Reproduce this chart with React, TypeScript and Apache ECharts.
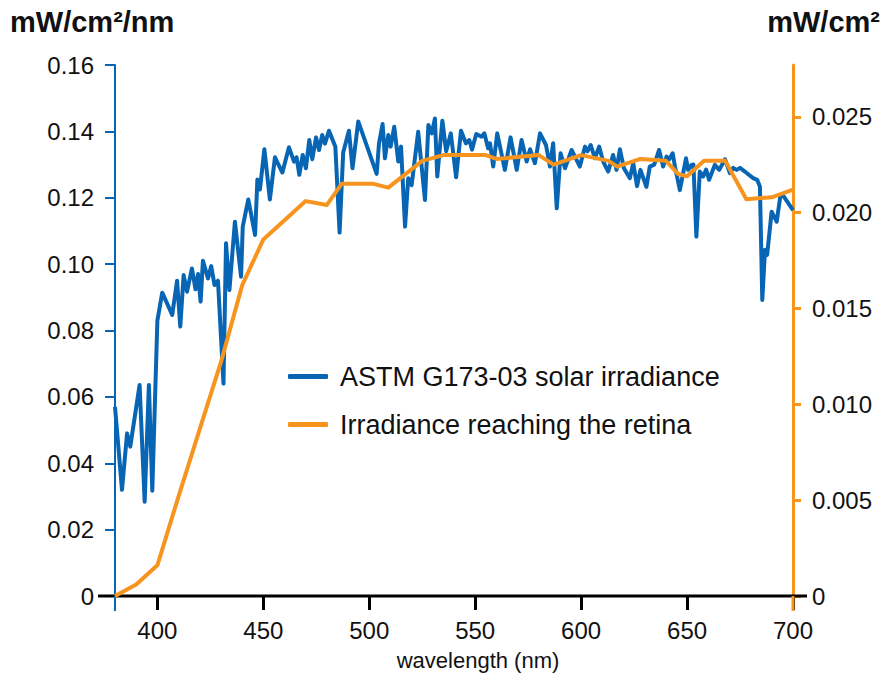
import React, { useEffect, useRef } from "react";
import * as echarts from "echarts";

const wavelength = [
  380, 383.3, 385.7, 387.2, 391.6, 394, 396, 397.6, 400, 402.3, 407, 409.3, 410.8, 412.4, 414, 416.3, 418, 419.2, 420.4, 421.5,
  423.9, 425.4, 427, 428.6, 431.2, 432.4, 434, 436.6, 439.5, 440.3, 442.9, 446.1, 447.2, 448.4, 450.5, 453.1, 455.5, 459, 462.1, 464.5,
  465.7, 467, 468.6, 470.1, 471.7, 473.1, 474.9, 476.3, 477.8, 479.1, 481, 484, 486, 487.7, 490.4, 492.1, 494.8, 503.5, 504.6, 506.3,
  507.4, 509, 510.1, 511.8, 513.7, 515, 516.9, 518.4, 520, 523.1, 526.3, 527.9, 529.5, 531, 532.1, 534.5, 536.3, 538.5, 541, 543.3,
  545.6, 547.2, 548.5, 550.5, 553, 554.3, 556.1, 557, 558.5, 560.4, 564, 566.7, 569.6, 571.9, 574.3, 575.9, 578.2, 580.6, 583.4, 585.3,
  586.8, 588.5, 590.3, 592.4, 595.5, 599.4, 601.8, 603, 604.5, 606.5, 608.5, 610.4, 612.8, 615.1, 616.7, 618.3, 620.2, 623, 624.6, 626.4,
  628, 630.8, 632.4, 634.5, 636.8, 638.7, 640.3, 641.5, 643.2, 644.3, 646.6, 649.5, 650.5, 652.1, 653, 654.4, 656, 657.6, 659, 660.4,
  663.1, 665.2, 667.9, 670.2, 671.8, 673.4, 675, 677.3, 679, 681.2, 683.1, 684.4, 685.5, 686.8, 687.8, 689.9, 692.3, 694.1, 695.5, 700,
];
const solarIrradiance = [
  0.057, 0.032, 0.049, 0.045, 0.0636, 0.0284, 0.0636, 0.0317, 0.083, 0.0914, 0.0847, 0.095, 0.0812, 0.0967, 0.0917, 0.0987, 0.0924, 0.097, 0.0887, 0.101,
  0.0957, 0.0994, 0.0937, 0.095, 0.064, 0.1063, 0.0922, 0.1128, 0.0962, 0.1113, 0.1195, 0.1088, 0.1255, 0.1225, 0.1346, 0.1195, 0.1322, 0.1276, 0.1352, 0.1309,
  0.1322, 0.1269, 0.1329, 0.1289, 0.1374, 0.1316, 0.1382, 0.1344, 0.1389, 0.1363, 0.1402, 0.1354, 0.1095, 0.1336, 0.1402, 0.1289, 0.143, 0.1272, 0.1364, 0.1422,
  0.1319, 0.1389, 0.1354, 0.1414, 0.1309, 0.1354, 0.1113, 0.1259, 0.1238, 0.1399, 0.1193, 0.1419, 0.1394, 0.1439, 0.1264, 0.1432, 0.134, 0.1394, 0.1262, 0.1402,
  0.1364, 0.1374, 0.1345, 0.1392, 0.1384, 0.1394, 0.1349, 0.1364, 0.1294, 0.1394, 0.1284, 0.1382, 0.1284, 0.1374, 0.1309, 0.1346, 0.1304, 0.1394, 0.1359, 0.1294,
  0.1364, 0.1168, 0.1334, 0.1289, 0.1344, 0.1294, 0.1354, 0.134, 0.1359, 0.1319, 0.1354, 0.1309, 0.1279, 0.1329, 0.1284, 0.1346, 0.1289, 0.1259, 0.1304, 0.1235,
  0.1284, 0.1233, 0.1294, 0.13, 0.1344, 0.1294, 0.1324, 0.1315, 0.1334, 0.1294, 0.1223, 0.1319, 0.1284, 0.1299, 0.13, 0.1083, 0.1279, 0.1264, 0.1285, 0.1254,
  0.1299, 0.1284, 0.1316, 0.1274, 0.129, 0.1284, 0.129, 0.1279, 0.127, 0.1259, 0.1254, 0.1233, 0.0892, 0.1043, 0.1028, 0.1158, 0.1128, 0.1208, 0.1205, 0.1163,
];

const retinaWavelength = [380, 390, 400, 410, 420, 430, 440, 450, 470, 480, 487, 502, 509, 525, 535, 555, 560, 580, 587, 600, 613, 617, 628, 640, 646, 650, 658, 668, 678, 690, 700];
const retinaIrradiance = [0, 0.0006, 0.0016, 0.0052, 0.0087, 0.0122, 0.0162, 0.0186, 0.0206, 0.0204, 0.0215, 0.0215, 0.0213, 0.0227, 0.023, 0.023, 0.0228, 0.023, 0.0225, 0.023, 0.0227, 0.0224, 0.0228, 0.0227, 0.022, 0.0219, 0.0227, 0.0227, 0.0207, 0.0208, 0.0212];

const xTicks = [400, 450, 500, 550, 600, 650, 700];
const rightTicks = [0, 0.005, 0.01, 0.015, 0.02, 0.025];

const BLUE = "#0765b4";
const ORANGE = "#f7941e";
const FONT = "'Liberation Sans', Arial, Helvetica, sans-serif";

export default function App() {
  const ref = useRef<HTMLDivElement>(null);
  useEffect(() => {
    if (!ref.current) return;
    const chart = echarts.init(ref.current, null, { renderer: "svg" });
    const gridL = 115, gridR = 91, gridT = 65, gridB = 79;
    const W = 884, H = 675;
    const y0 = H - gridB;
    chart.setOption({
      animation: false,
      textStyle: { fontFamily: FONT },
      grid: { left: gridL, right: gridR, top: gridT, bottom: gridB, containLabel: false },
      legend: {
        left: 283,
        top: 358,
        orient: "vertical",
        itemGap: 21,
        itemWidth: 40,
        itemHeight: 5,
        icon: "roundRect",
        textStyle: { fontSize: 27, color: "#111", fontFamily: FONT, padding: [0, 0, 0, 7] },
        data: ["ASTM G173-03 solar irradiance", "Irradiance reaching the retina"],
      },
      xAxis: {
        type: "value",
        min: 380,
        max: 700,
        axisLine: { show: false },
        axisTick: { show: true, customValues: xTicks, length: 14, lineStyle: { color: "#000", width: 3 } },
        axisLabel: { customValues: xTicks, fontSize: 24, color: "#111", margin: 22, fontFamily: FONT },
        splitLine: { show: false },
      },
      yAxis: [
        {
          type: "value",
          min: 0,
          max: 0.16,
          interval: 0.02,
          axisLine: { show: true, lineStyle: { color: BLUE, width: 2 } },
          axisTick: { show: true, length: 10, lineStyle: { color: BLUE, width: 2 } },
          axisLabel: {
            fontSize: 24,
            color: "#111",
            margin: 21,
            fontFamily: FONT,
            formatter: (v: number) => (v === 0 ? "0" : v.toFixed(2)),
          },
          splitLine: { show: false },
        },
        {
          type: "value",
          min: 0,
          max: 0.0277,
          position: "right",
          axisLine: { show: true, lineStyle: { color: ORANGE, width: 3 } },
          axisTick: { show: true, customValues: rightTicks, length: 8, lineStyle: { color: ORANGE, width: 3 } },
          axisLabel: {
            customValues: rightTicks,
            fontSize: 24,
            color: "#111",
            margin: 19,
            fontFamily: FONT,
            formatter: (v: number) => (v === 0 ? "0" : v.toFixed(3)),
          },
          splitLine: { show: false },
        },
      ],
      graphic: [
        { type: "line", shape: { x1: 98, y1: y0, x2: 807, y2: y0 }, style: { stroke: "#000", lineWidth: 3 }, z: 1 },
        { type: "line", shape: { x1: gridL, y1: y0, x2: gridL, y2: y0 + 15 }, style: { stroke: BLUE, lineWidth: 2 }, z: 2 },
        { type: "line", shape: { x1: W - gridR, y1: y0, x2: W - gridR, y2: y0 + 15 }, style: { stroke: ORANGE, lineWidth: 3 }, z: 2 },
        { type: "text", x: 10, y: 22, style: { text: "mW/cm²/nm", fontSize: 29, fontWeight: "bold", fill: "#111", fontFamily: FONT, verticalAlign: "middle", align: "left" } },
        { type: "text", x: 880, y: 22, style: { text: "mW/cm²", fontSize: 29, fontWeight: "bold", fill: "#111", fontFamily: FONT, verticalAlign: "middle", align: "right" } },
        { type: "text", x: 478, y: 660, style: { text: "wavelength (nm)", fontSize: 22, fill: "#111", fontFamily: FONT, verticalAlign: "middle", align: "center" } },
      ],
      series: [
        {
          name: "ASTM G173-03 solar irradiance",
          type: "line",
          yAxisIndex: 0,
          data: wavelength.map((w, i) => [w, solarIrradiance[i]]),
          showSymbol: false,
          lineStyle: { color: BLUE, width: 4, join: "round" },
          itemStyle: { color: BLUE },
          z: 3,
        },
        {
          name: "Irradiance reaching the retina",
          type: "line",
          yAxisIndex: 1,
          data: retinaWavelength.map((w, i) => [w, retinaIrradiance[i]]),
          showSymbol: false,
          lineStyle: { color: ORANGE, width: 4, join: "round" },
          itemStyle: { color: ORANGE },
          z: 4,
        },
      ],
    });
    return () => chart.dispose();
  }, []);
  return <div ref={ref} style={{ width: 884, height: 675, position: "absolute", left: 0, top: 0 }} />;
}
